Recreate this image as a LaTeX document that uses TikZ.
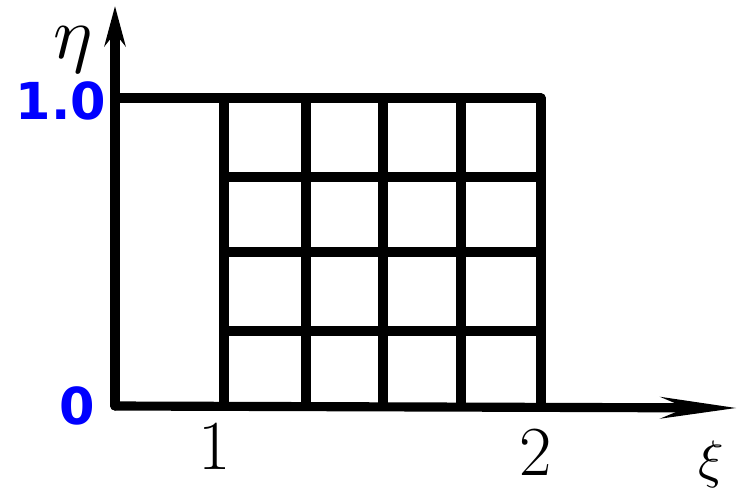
\documentclass[tikz,border=0pt]{standalone}
\usepackage{fontspec}
\newfontfamily\valuefont{DejaVu Sans}
\usetikzlibrary{arrows.meta,positioning}

\begin{document}
\begin{tikzpicture}[
    x=0.02cm, y=-0.02cm,
    gridline/.style={line width=5.2pt, line cap=round, line join=round},
    axis/.style={line width=5.2pt, line cap=round},
    value/.style={font=\valuefont\bfseries\fontsize{29}{29}\selectfont, text=blue, inner sep=0pt},
    tick/.style={font=\fontsize{40}{40}\selectfont, inner sep=0pt}
]
\useasboundingbox (0,0) rectangle (737,493);

% axes
\coordinate (origin) at (115,406);
\coordinate (etaend) at (115,6);
\coordinate (xiend) at (737,408);
\draw[axis, -{Stealth[length=0.8cm, width=0.42cm]}] (origin) -- (etaend);
\draw[axis, -{Stealth[length=1.5cm, width=0.42cm]}] (origin) -- (xiend);

% top boundary and grid
\draw[gridline] (115,98) -- (541,98);
\foreach \x in {224,306,383,461,541}
    \draw[gridline] (\x,98) -- (\x,406);
\foreach \y in {177,252,331}
    \draw[gridline] (224,\y) -- (541,\y);

% labels
\node[value] (top) at (61,101) {1.0};
\node[value] (zero) at (77,406) {0};
\node[tick] (one) at (215,446) {1};
\node[tick] (two) at (536,452) {2};
\node[inner sep=0pt] (eta) at (73,50) {\scalebox{4.2}{$\eta$}};
\node[inner sep=0pt] (xi) at (711,464) {\scalebox{3.0}{$\xi$}};

\end{tikzpicture}
\end{document}
